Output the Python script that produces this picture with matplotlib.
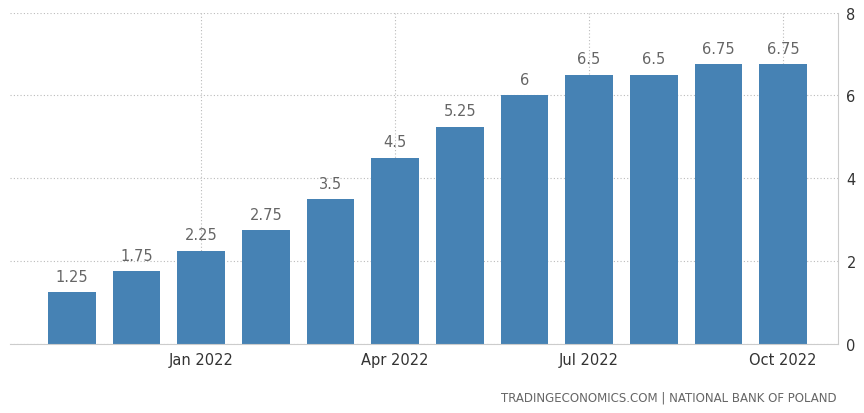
import matplotlib
matplotlib.use("Agg")
import matplotlib.pyplot as plt

months = ["Nov 2021","Dec 2021","Jan 2022","Feb 2022","Mar 2022","Apr 2022","May 2022","Jun 2022","Jul 2022","Aug 2022","Sep 2022","Oct 2022"]
values = [1.25, 1.75, 2.25, 2.75, 3.5, 4.5, 5.25, 6, 6.5, 6.5, 6.75, 6.75]
labels = ["1.25","1.75","2.25","2.75","3.5","4.5","5.25","6","6.5","6.5","6.75","6.75"]
tick_idx = [2, 5, 8, 11]
tick_labels = ["Jan 2022", "Apr 2022", "Jul 2022", "Oct 2022"]
yticks = [0, 2, 4, 6, 8]

fig = plt.figure(figsize=(8.64, 4.14), dpi=100)
ax = fig.add_axes([0.012, 0.167, 0.958, 0.80])
x = list(range(len(values)))
ax.bar(x, values, width=0.74, color="#4682b4", zorder=2)
for xi, v, l in zip(x, values, labels):
    ax.text(xi, v + 0.2, l, ha="center", va="bottom", fontsize=10.5, color="#666666")
ax.set_xlim(-0.95, 11.85)
ax.set_ylim(0, 8)
ax.yaxis.tick_right()
ax.set_yticks(yticks)
ax.set_xticks(tick_idx)
ax.set_xticklabels(tick_labels)
ax.tick_params(axis="both", length=0, labelsize=10.5, colors="#333333", pad=6)
ax.grid(True, axis="both", linestyle=(0, (1, 2)), color="#bbbbbb", linewidth=0.8, zorder=0)
for s in ["top", "left"]:
    ax.spines[s].set_visible(False)
ax.spines["bottom"].set_color("#cccccc")
ax.spines["right"].set_color("#cccccc")
fig.text(0.968, 0.03, "TRADINGECONOMICS.COM | NATIONAL BANK OF POLAND", ha="right", fontsize=8.5, color="#666666")
fig.savefig("out.png")
